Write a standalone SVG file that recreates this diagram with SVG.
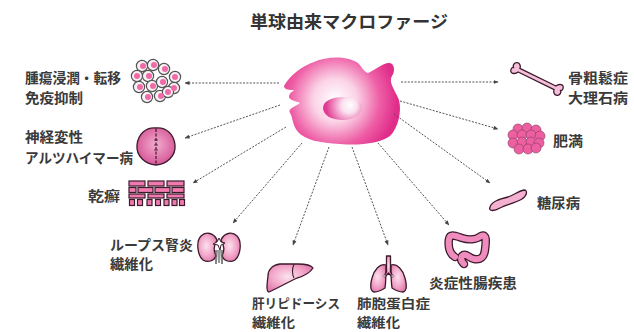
<svg xmlns="http://www.w3.org/2000/svg" width="634" height="332" viewBox="0 0 634 332">
  <defs>
    <radialGradient id="cellGrad" cx="335" cy="100" r="62" gradientUnits="userSpaceOnUse">
      <stop offset="0" stop-color="#ffffff"/>
      <stop offset="0.35" stop-color="#fbd3e6"/>
      <stop offset="0.72" stop-color="#ee5fa6"/>
      <stop offset="1" stop-color="#e02d8a"/>
    </radialGradient>
    <radialGradient id="nucGrad" cx="348" cy="106" fx="350" fy="105" r="22" gradientUnits="userSpaceOnUse">
      <stop offset="0" stop-color="#ffffff"/>
      <stop offset="0.35" stop-color="#fbe0ee"/>
      <stop offset="1" stop-color="#e03a92"/>
    </radialGradient>
    <radialGradient id="organGrad" cx="0.45" cy="0.45" r="0.6">
      <stop offset="0" stop-color="#fbe3ef"/>
      <stop offset="0.6" stop-color="#f2a6c9"/>
      <stop offset="1" stop-color="#e07aad"/>
    </radialGradient>
    <radialGradient id="brainGrad" cx="0.5" cy="0.45" r="0.6">
      <stop offset="0" stop-color="#f3acce"/>
      <stop offset="1" stop-color="#d24f92"/>
    </radialGradient>
    <marker id="arrow" viewBox="0 0 10 10" refX="9" refY="5" markerWidth="5" markerHeight="5" orient="auto">
      <path d="M0,1 L10,5 L0,9 Z" fill="#444"/>
    </marker>
  </defs>
  <style>
    .label { font-family: "Noto Sans CJK JP", "Noto Sans", sans-serif; font-weight: 700; font-size: 14px; fill: #3a3a3a; }
    .small { font-size: 13px; }
    .title { font-family: "Noto Sans CJK JP", "Noto Sans", sans-serif; font-weight: 700; font-size: 17px; fill: #333; }
    .conn { fill: none; stroke: #555; stroke-width: 1; stroke-dasharray: 2 1.4; marker-end: url(#arrow); }
    .outline { stroke: #3c1a2c; stroke-width: 1.3; stroke-linejoin: round; }
    .organ { fill: url(#organGrad); }
    .tcell { fill: #f7f1f4; stroke: #555; stroke-width: 1.2; }
    .tcore { fill: #f06aa8; }
    .fat { fill: #ec5fa0; stroke: #8a3a60; stroke-width: 0.6; }
    .brick { fill: #f07ab0; stroke: #3c1a2c; stroke-width: 1.2; }
  </style>

  <rect width="634" height="332" fill="#ffffff"/>

  <text class="title" x="250" y="28" textLength="198" lengthAdjust="spacingAndGlyphs">単球由来マクロファージ</text>

  <!-- central macrophage -->
  <g id="macrophage">
    <path d="M284,86 C290,75 302,66 314,62 C326,57 345,55 358,63 C362,67 364,72 368,73 C375,70 382,64 388,63 C394,62 396,70 392,76 C388,82 395,90 399,100 C402,112 398,128 390,136 C380,143 360,146 340,144 C320,143 305,140 298,132 C292,125 293,117 290,113 C287,109 296,106 300,103 C296,101 288,100 289,96 C290,92 294,91 294,90 C290,90 284,90 284,86 Z" fill="url(#cellGrad)"/>
    <path d="M323,108 C323,101 332,97 343,97 C354,97 362,101 362,107 C362,114 354,120 343,120 C331,120 323,115 323,108 Z" fill="url(#nucGrad)"/>
  </g>

  <!-- connectors -->
  <g id="connectors">
    <line class="conn" x1="279" y1="83" x2="185" y2="83"/>
    <line class="conn" x1="280" y1="105" x2="185" y2="138"/>
    <line class="conn" x1="286" y1="127" x2="193" y2="183"/>
    <line class="conn" x1="302" y1="143" x2="233" y2="223"/>
    <line class="conn" x1="329" y1="147" x2="293" y2="245"/>
    <line class="conn" x1="352" y1="147" x2="388" y2="245"/>
    <line class="conn" x1="378" y1="143" x2="449" y2="225"/>
    <line class="conn" x1="394" y1="114" x2="490" y2="183"/>
    <line class="conn" x1="400" y1="101" x2="498" y2="129"/>
    <line class="conn" x1="401" y1="82" x2="498" y2="82"/>
  </g>

  <!-- tumor -->
  <g id="tumor">
    <g>
      <circle class="tcell" cx="142" cy="66" r="5.6"/><circle class="tcell" cx="153" cy="65" r="5.6"/><circle class="tcell" cx="164" cy="69" r="5.6"/>
      <circle class="tcell" cx="137" cy="76" r="5.6"/><circle class="tcell" cx="148" cy="76" r="5.6"/><circle class="tcell" cx="175" cy="77" r="5.6"/>
      <circle class="tcell" cx="139" cy="87" r="5.6"/><circle class="tcell" cx="152" cy="86" r="5.6"/><circle class="tcell" cx="162" cy="82" r="5.6"/><circle class="tcell" cx="174" cy="88" r="5.6"/>
      <circle class="tcell" cx="147" cy="97" r="5.6"/><circle class="tcell" cx="160" cy="96" r="5.6"/><circle class="tcell" cx="168" cy="92" r="5.6"/>
    </g>
    <g>
      <circle class="tcore" cx="143" cy="66" r="3"/><circle class="tcore" cx="154" cy="65" r="3"/><circle class="tcore" cx="165" cy="69" r="3"/>
      <circle class="tcore" cx="137" cy="76" r="3"/><circle class="tcore" cx="149" cy="76" r="3"/><circle class="tcore" cx="175" cy="77" r="3"/>
      <circle class="tcore" cx="140" cy="87" r="3"/><circle class="tcore" cx="153" cy="86" r="3"/><circle class="tcore" cx="163" cy="82" r="3"/><circle class="tcore" cx="174" cy="88" r="3"/>
      <circle class="tcore" cx="148" cy="97" r="3"/><circle class="tcore" cx="161" cy="96" r="3"/><circle class="tcore" cx="168" cy="92" r="3"/>
    </g>
    <text class="label" x="25" y="83" textLength="96" lengthAdjust="spacingAndGlyphs">腫瘍浸潤・転移</text>
    <text class="label" x="25" y="103" textLength="58" lengthAdjust="spacingAndGlyphs">免疫抑制</text>
  </g>

  <!-- brain -->
  <g id="brain">
    <path class="outline" fill="url(#brainGrad)" d="M156,128 C146,127 138,134 137,145 C136,156 145,164 156,165 C167,164 176,156 175,145 C174,134 166,127 156,128 Z"/>
    <path d="M156,129 L156,164" stroke="#3c1a2c" stroke-width="1.2" stroke-dasharray="3 1.5" fill="none"/>
    <path d="M154,140 L158,140 M154,145 L158,145 M154,150 L158,150" stroke="#3c1a2c" stroke-width="0.8" fill="none"/>
    <text class="label" x="25" y="142" textLength="58" lengthAdjust="spacingAndGlyphs">神経変性</text>
    <text class="label" x="25" y="163" textLength="108" lengthAdjust="spacingAndGlyphs">アルツハイマー病</text>
  </g>

  <!-- skin -->
  <g id="skin">
    <rect x="128" y="180" width="57" height="27" fill="#ffffff"/>
    <rect class="brick" x="129" y="181" width="16" height="5"/>
    <rect class="brick" x="148" y="181" width="16" height="5"/>
    <rect class="brick" x="167" y="181" width="17" height="5"/>
    <rect class="brick" x="129" y="187.5" width="7" height="5"/>
    <rect class="brick" x="138" y="187.5" width="15" height="5"/>
    <rect class="brick" x="155" y="187.5" width="15" height="5"/>
    <rect class="brick" x="172" y="187.5" width="12" height="5"/>
    <rect class="brick" x="129" y="194" width="16" height="4"/>
    <rect class="brick" x="148" y="194" width="16" height="4"/>
    <rect class="brick" x="167" y="194" width="17" height="4"/>
    <rect class="brick" x="129.5" y="199.5" width="5" height="6"/>
    <rect class="brick" x="137.5" y="199.5" width="5" height="6"/>
    <rect class="brick" x="147" y="199.5" width="5" height="6"/>
    <rect class="brick" x="155.5" y="199.5" width="5" height="6"/>
    <rect class="brick" x="164" y="199.5" width="5" height="6"/>
    <rect class="brick" x="172" y="199.5" width="5" height="6"/>
    <rect class="brick" x="179.5" y="199.5" width="5" height="6"/>
    <text class="label" x="88" y="201" textLength="32" lengthAdjust="spacingAndGlyphs">乾癬</text>
  </g>

  <!-- kidney -->
  <g id="kidney">
    <path class="outline organ" d="M217,240 C214,233 206,231 201,236 C196,241 197,255 203,260 C208,263 214,261 216,256 C214,252 213,246 217,240 Z"/>
    <path class="outline organ" d="M221,240 C224,233 232,231 237,236 C242,241 241,255 235,260 C230,263 224,261 222,256 C224,252 225,246 221,240 Z"/>
    <path d="M219,238 L221,242 L225,243 L221,245 L220,250 L218,245 L213,244 L217,242 Z" fill="#ffffff" stroke="#3c1a2c" stroke-width="1"/>
    <path d="M216,250 L216,264 M222,250 L222,264" stroke="#555" stroke-width="1.4" fill="none"/>
    <path d="M217,250 L221,250 L220,263 L218,263 Z" fill="#999"/>
    <text class="label" x="110" y="250" textLength="83" lengthAdjust="spacingAndGlyphs">ループス腎炎</text>
    <text class="label" x="110" y="269" textLength="43" lengthAdjust="spacingAndGlyphs">繊維化</text>
  </g>

  <!-- liver -->
  <g id="liver">
    <path class="outline organ" d="M268,276 C268,270 272,265 280,264 L298,264 C305,264 311,265 313,268 C310,273 304,276 297,278 C290,281 280,287 269,292 C266,292 267,284 268,276 Z"/>
    <path d="M294,264 C292,269 292,274 294,278" stroke="#3c1a2c" stroke-width="1.1" fill="none"/>
    <text class="label small" x="252" y="308" textLength="88" lengthAdjust="spacingAndGlyphs">肝リピドーシス</text>
    <text class="label small" x="252" y="327" textLength="43" lengthAdjust="spacingAndGlyphs">繊維化</text>
  </g>

  <!-- lungs -->
  <g id="lungs">
    <path class="outline organ" d="M386,265 C380,263 374,270 372,278 C370,285 370,291 374,292 C378,292 382,290 385,288 C386,282 386,272 386,265 Z"/>
    <path class="outline organ" d="M391,265 C397,263 403,270 405,278 C407,285 407,291 403,292 C399,292 395,290 392,288 C391,282 391,272 391,265 Z"/>
    <path class="outline organ" d="M386.5,256 L390.5,256 L390.5,272 L393,276 L392,277 L388.5,273 L385,277 L384,276 L386.5,272 Z"/>
    <circle cx="384" cy="276" r="1.6" fill="#b8a0b0"/>
    <circle cx="393" cy="276" r="1.6" fill="#b8a0b0"/>
    <text class="label small" x="357" y="308" textLength="73" lengthAdjust="spacingAndGlyphs">肺胞蛋白症</text>
    <text class="label small" x="357" y="327" textLength="43" lengthAdjust="spacingAndGlyphs">繊維化</text>
  </g>

  <!-- colon -->
  <g id="colon">
    <path d="M455,257 C449,254 448,245 449,239 C450,233 456,236 462,238 C468,240 476,240 481,236 C487,233 486,242 485,250 C484,258 480,260 474,259 C468,258 466,252 462,256 C460,259 462,262 464,264" fill="none" stroke="#3c1a2c" stroke-width="8.5" stroke-linecap="round" stroke-linejoin="round"/>
    <path d="M455,257 C449,254 448,245 449,239 C450,233 456,236 462,238 C468,240 476,240 481,236 C487,233 486,242 485,250 C484,258 480,260 474,259 C468,258 466,252 462,256 C460,259 462,262 464,264" fill="none" stroke="#f08cbd" stroke-width="6" stroke-linecap="round" stroke-linejoin="round"/>
    <text class="label" x="429" y="288" textLength="88" lengthAdjust="spacingAndGlyphs">炎症性腸疾患</text>
  </g>

  <!-- pancreas -->
  <g id="pancreas">
    <path class="outline" fill="#f4b0cf" d="M490,207 C492,201 500,199 508,197 C514,195 518,191 524,190 C528,190 527,196 522,199 C515,203 506,205 500,208 C495,211 488,212 490,207 Z"/>
    <text class="label" x="537" y="208" textLength="43" lengthAdjust="spacingAndGlyphs">糖尿病</text>
  </g>

  <!-- adipocytes -->
  <g id="obesity">
    <circle class="fat" cx="518" cy="129" r="5"/><circle class="fat" cx="527" cy="128" r="5"/><circle class="fat" cx="536" cy="130" r="5"/>
    <circle class="fat" cx="513" cy="135" r="5"/><circle class="fat" cx="522" cy="135" r="5"/><circle class="fat" cx="531" cy="135" r="5"/><circle class="fat" cx="540" cy="136" r="5"/>
    <circle class="fat" cx="513" cy="143" r="5"/><circle class="fat" cx="522" cy="142" r="5"/><circle class="fat" cx="531" cy="142" r="5"/><circle class="fat" cx="539" cy="143" r="5"/>
    <circle class="fat" cx="519" cy="149" r="5"/><circle class="fat" cx="528" cy="149" r="5"/><circle class="fat" cx="536" cy="148" r="5"/>
    <text class="label" x="553" y="146" textLength="30" lengthAdjust="spacingAndGlyphs">肥満</text>
  </g>

  <!-- bone -->
  <g id="bone">
    <path class="outline" fill="#f6bfd9" transform="translate(537,79) rotate(26)" d="M-20,-2 L20,-2 C22,-6 27,-7 27.5,-3 C28,-1 27,0 26,0 C28,1 28,5 25,6 C22,7 20,4 20,2 L-20,2 C-22,6 -27,7 -27.5,3 C-28,1 -27,0 -26,0 C-28,-1 -28,-5 -25,-6 C-22,-7 -20,-4 -20,-2 Z"/>
    <text class="label" x="568" y="83" textLength="60" lengthAdjust="spacingAndGlyphs">骨粗鬆症</text>
    <text class="label" x="568" y="103" textLength="60" lengthAdjust="spacingAndGlyphs">大理石病</text>
  </g>
</svg>
